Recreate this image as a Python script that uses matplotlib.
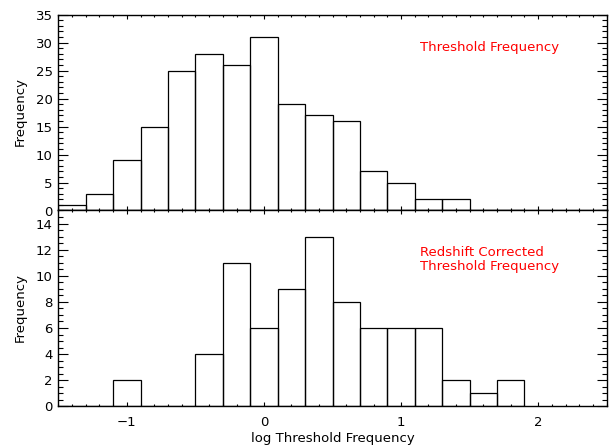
import matplotlib
matplotlib.use('Agg')
import matplotlib.pyplot as plt
import numpy as np
from matplotlib.ticker import MultipleLocator

# bin edges in log threshold frequency, width 0.2
BIN_LEFT = [-1.5, -1.3, -1.1, -0.9, -0.7, -0.5, -0.3, -0.1,
            0.1, 0.3, 0.5, 0.7, 0.9, 1.1, 1.3, 1.5, 1.7]
BIN_WIDTH = 0.2

# observed frame threshold frequency
counts_obs = [1, 3, 9, 15, 25, 28, 26, 31, 19, 17, 16, 7, 5, 2, 2, 0, 0]
# redshift corrected threshold frequency
counts_rest = [0, 0, 2, 0, 0, 4, 11, 6, 9, 13, 8, 6, 6, 6, 2, 1, 2]

LABEL_TOP = ['Threshold Frequency']
LABEL_BOTTOM = ['Redshift Corrected', 'Threshold Frequency']

W, H = 611, 448
plt.rcParams['font.family'] = 'DejaVu Sans'
plt.rcParams['font.size'] = 9.5

fig = plt.figure(figsize=(W / 100, H / 100), dpi=100)

left, right = 58.3 / W, 606.7 / W
ax_top = fig.add_axes([left, 1 - 210.5 / H, right - left, (210.5 - 14.7) / H])
ax_bot = fig.add_axes([left, 1 - 406.3 / H, right - left, (406.3 - 210.5) / H])


def style(ax, ymax, ymajor, yminor, show_x):
    ax.set_xlim(-1.5, 2.5)
    ax.set_ylim(0, ymax)
    ax.xaxis.set_major_locator(MultipleLocator(1))
    ax.xaxis.set_minor_locator(MultipleLocator(0.1))
    ax.yaxis.set_major_locator(MultipleLocator(ymajor))
    ax.yaxis.set_minor_locator(MultipleLocator(yminor))
    ax.tick_params(axis='both', which='both', direction='in', top=True, right=True,
                   width=0.8, colors='black')
    ax.tick_params(axis='x', which='major', length=3.0, pad=7)
    ax.tick_params(axis='x', which='minor', length=1.5)
    ax.tick_params(axis='y', which='major', length=7.5, pad=4)
    ax.tick_params(axis='y', which='minor', length=3.8)
    if not show_x:
        ax.tick_params(axis='x', labelbottom=False)
    for s in ax.spines.values():
        s.set_linewidth(1.0)


ax_top.bar(BIN_LEFT, counts_obs, width=BIN_WIDTH, align='edge', fill=False,
           edgecolor='black', linewidth=0.9)
style(ax_top, 35, 5, 1, False)
ax_top.set_yticks(np.arange(0, 36, 5))

ax_bot.bar(BIN_LEFT, counts_rest, width=BIN_WIDTH, align='edge', fill=False,
           edgecolor='black', linewidth=0.9)
style(ax_bot, 15, 2, 0.5, True)
ax_bot.set_yticks(np.arange(0, 15, 2))
ax_bot.set_xlabel('log Threshold Frequency', labelpad=2)

fig.text(20 / W, 1 - 112 / H, 'Frequency', rotation=90, ha='center', va='center')
fig.text(20 / W, 1 - 308 / H, 'Frequency', rotation=90, ha='center', va='center')

ax_top.text(0.66, 0.816, LABEL_TOP[0], color='red', transform=ax_top.transAxes,
            va='baseline', ha='left')
ax_bot.text(0.66, 0.769, LABEL_BOTTOM[0], color='red', transform=ax_bot.transAxes,
            va='baseline', ha='left')
ax_bot.text(0.66, 0.696, LABEL_BOTTOM[1], color='red', transform=ax_bot.transAxes,
            va='baseline', ha='left')

fig.savefig('out.png', dpi=100)
